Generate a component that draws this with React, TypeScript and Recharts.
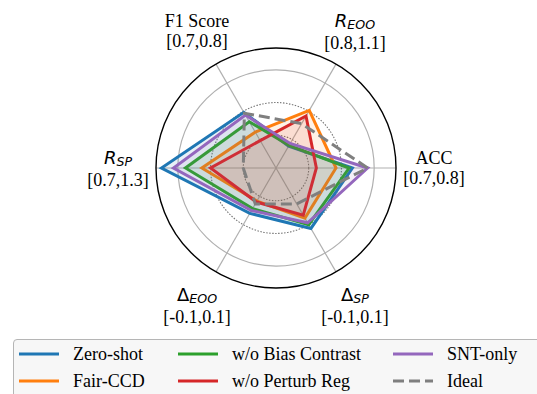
import React from "react";
import {
  RadarChart,
  Radar,
  PolarGrid,
  PolarAngleAxis,
  PolarRadiusAxis,
  Legend,
} from "recharts";

// axes go counter-clockwise starting at the right (ACC)
const axes = ["ACC", "R_EOO", "F1 Score", "R_SP", "Δ_EOO", "Δ_SP"];
const axisRanges = ["[0.7,0.8]", "[0.8,1.1]", "[0.7,0.8]", "[0.7,1.3]", "[-0.1,0.1]", "[-0.1,0.1]"];

// normalised scores (radial axis 0..1.1)
const zeroShot = [0.7, 0.23, 0.59, 1.05, 0.48, 0.64];
const fairCcd = [0.55, 0.61, 0.38, 0.68, 0.35, 0.53];
const noBiasContrast = [0.67, 0.24, 0.49, 0.83, 0.43, 0.6];
const noPerturbReg = [0.37, 0.55, 0.29, 0.6, 0.36, 0.5];
const sntOnly = [0.84, 0.26, 0.56, 0.94, 0.45, 0.58];
const ideal = [0.84, 0.47, 0.58, 0.3, 0.38, 0.38];

const RADIUS_MAX = 1.1;
const dottedRings = [0.3, 0.6];
const solidRings = [0.9];

const CX = 276;
const CY = 168;
const OUTER = 120;
const LABEL_R = 158;

const series = [
  { key: "zeroShot", name: "Zero-shot", color: "#1f77b4", values: zeroShot },
  { key: "fairCcd", name: "Fair-CCD", color: "#ff7f0e", values: fairCcd },
  { key: "noBiasContrast", name: "w/o Bias Contrast", color: "#2ca02c", values: noBiasContrast },
  { key: "noPerturbReg", name: "w/o Perturb Reg", color: "#d62728", values: noPerturbReg },
  { key: "sntOnly", name: "SNT-only", color: "#9467bd", values: sntOnly },
  { key: "ideal", name: "Ideal", color: "#7f7f7f", values: ideal, dash: "11 5" },
];

const rows = axes.map((axis, i) => {
  const row: Record<string, string | number> = { axis };
  series.forEach((s) => {
    row[s.key] = s.values[i];
  });
  return row;
});

const toPx = (v: number) => (OUTER * v) / RADIUS_MAX;

const SERIF = '"Liberation Serif", "Times New Roman", serif';
const SANS = '"DejaVu Sans", sans-serif';

// label sits at the same angle as the data spoke (ACC at 0deg, then every 60deg ccw)
const AxisTick = (props: any) => {
  const { payload } = props;
  const i = axes.indexOf(payload.value);
  const angle = (i * 360) / axes.length;
  const rad = (-angle * Math.PI) / 180;
  const x = CX + LABEL_R * Math.cos(rad);
  const y = CY + LABEL_R * Math.sin(rad);
  const [base, sub] = String(payload.value).split("_");
  const isMath = sub !== undefined;
  return (
    <g>
      <text
        x={x}
        y={isMath ? y - 11 : y - 10}
        textAnchor="middle"
        dominantBaseline="central"
        fontFamily={isMath ? SANS : SERIF}
        fontSize={18}
        fill="#000"
      >
        {isMath ? (
          <>
            <tspan fontStyle={base === "R" ? "italic" : "normal"}>{base}</tspan>
            <tspan fontStyle="italic" fontSize={12.6} dy={4}>
              {sub}
            </tspan>
          </>
        ) : (
          base
        )}
      </text>
      <text
        x={x}
        y={isMath ? y + 12 : y + 10}
        textAnchor="middle"
        dominantBaseline="central"
        fontFamily={SERIF}
        fontSize={18}
        fill="#000"
      >
        {axisRanges[i]}
      </text>
    </g>
  );
};

const LEGEND_COL_X = [5, 164, 379];
const LEGEND_ROW_Y = [14, 41];

const LegendBox = (props: any) => {
  const payload: any[] = props.payload ?? [];
  return (
    <div
      style={{
        position: "relative",
        width: 540,
        height: 64,
        boxSizing: "border-box",
        border: "1px solid #b5b5b5",
        borderRadius: 4,
        background: "#f7f7f7",
        fontFamily: SERIF,
        fontSize: 18,
        color: "#000",
      }}
    >
      {series.map((s, i) => {
        const entry = payload.find((p) => p.value === s.name);
        const col = Math.floor(i / 2);
        const row = i % 2;
        return (
          <div
            key={s.key}
            style={{
              position: "absolute",
              left: LEGEND_COL_X[col],
              top: LEGEND_ROW_Y[row] - 11,
              height: 22,
              display: "flex",
              alignItems: "center",
              whiteSpace: "nowrap",
            }}
          >
            <svg width={40} height={6}>
              <line
                x1={0}
                y1={3}
                x2={40}
                y2={3}
                stroke={entry?.color ?? s.color}
                strokeWidth={3}
                strokeDasharray={s.dash}
              />
            </svg>
            <span style={{ marginLeft: 14, lineHeight: "22px" }}>{entry?.value ?? s.name}</span>
          </div>
        );
      })}
    </div>
  );
};

const App = () => {
  return (
    <div
      style={{
        position: "fixed",
        left: 0,
        top: 0,
        width: 537,
        height: 394,
        overflow: "hidden",
        background: "#fff",
      }}
    >
      <RadarChart
        width={537}
        height={394}
        data={rows}
        cx={CX}
        cy={CY}
        outerRadius={OUTER}
        startAngle={-60}
        endAngle={300}
        margin={{ top: 0, right: 0, bottom: 0, left: 0 }}
      >
        <PolarGrid gridType="circle" polarRadius={solidRings.map(toPx)} stroke="#b0b0b0" strokeWidth={1.2} />
        <PolarGrid
          gridType="circle"
          radialLines={false}
          polarRadius={dottedRings.map(toPx)}
          stroke="#777"
          strokeWidth={1.1}
          strokeDasharray="1.5 1.5"
        />
        <PolarGrid gridType="circle" radialLines={false} polarRadius={[OUTER]} stroke="#000" strokeWidth={1.4} />
        <PolarAngleAxis dataKey="axis" tick={AxisTick} tickLine={false} axisLine={false} />
        <PolarRadiusAxis type="number" domain={[0, RADIUS_MAX]} tick={false} axisLine={false} />
        {series.map((s) => (
          <Radar
            key={s.key}
            name={s.name}
            dataKey={s.key}
            stroke={s.color}
            strokeWidth={3}
            strokeDasharray={s.dash}
            fill={s.dash ? "none" : s.color}
            fillOpacity={s.dash ? 0 : 0.1}
            dot={false}
            isAnimationActive={false}
          />
        ))}
        <Legend content={LegendBox} wrapperStyle={{ left: 13, top: 339, width: 540 }} />
      </RadarChart>
    </div>
  );
};

export default App;
